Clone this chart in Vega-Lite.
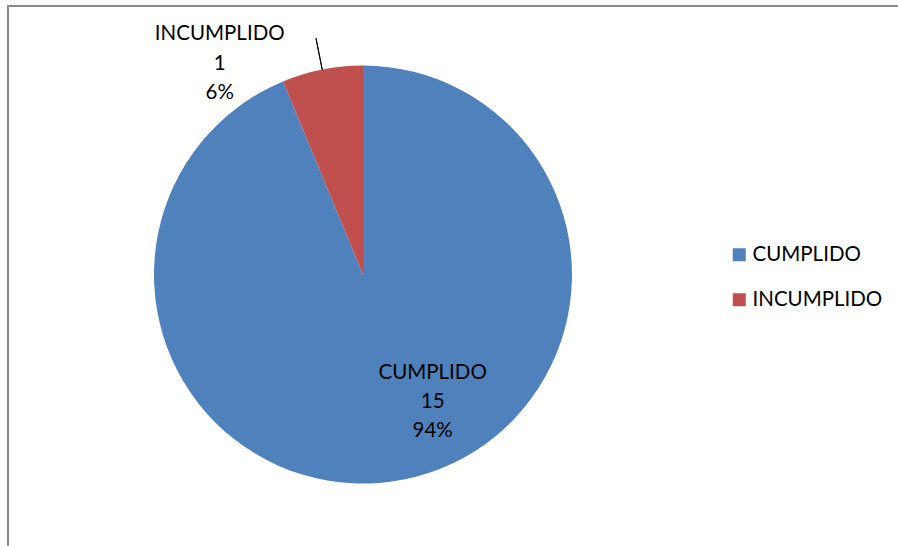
{
  "$schema": "https://vega.github.io/schema/vega-lite/v6.json",
  "width": 900,
  "height": 550,
  "autosize": {"type": "none"},
  "padding": {"left": 8, "top": 6, "right": 0, "bottom": 0},
  "background": "white",
  "data": {
    "values": [
      {"category": "CUMPLIDO", "count": 15, "label": ["CUMPLIDO", "15", "94%"]},
      {"category": "INCUMPLIDO", "count": 1, "label": ["INCUMPLIDO", "1", "6%"]}
    ]
  },
  "layer": [
    {
      "data": {"values": [{"frame": "chart area"}]},
      "mark": {"type": "rect", "fill": "transparent", "stroke": "#898989", "strokeWidth": 2},
      "encoding": {}
    },
    {
      "mark": {"type": "arc", "outerRadius": 209, "xOffset": -95, "yOffset": -6.4},
      "encoding": {
        "theta": {"field": "count", "type": "quantitative", "stack": true},
        "order": {"field": "category", "type": "ordinal", "sort": "ascending"},
        "color": {
          "field": "category",
          "type": "nominal",
          "scale": {"domain": ["CUMPLIDO", "INCUMPLIDO"], "range": ["#4F81BD", "#C0504D"]},
          "legend": {"title": null}
        }
      }
    },
    {
      "mark": {"type": "arc", "filled": false, "innerRadius": 209, "outerRadius": 241, "padAngle": 1, "strokeWidth": 1, "xOffset": -95, "yOffset": -6.4},
      "encoding": {
        "theta": {"field": "count", "type": "quantitative", "stack": true},
        "order": {"field": "category", "type": "ordinal", "sort": "ascending"},
        "detail": {"field": "category", "type": "nominal"},
        "stroke": {"condition": {"test": "datum.category === 'INCUMPLIDO'", "value": "black"}, "value": "transparent"}
      }
    },
    {
      "mark": {"type": "text", "radius": 130, "dx": 44.3, "dy": -29.5, "xOffset": -95, "yOffset": -6.4, "font": "Lato", "fontSize": 20.5, "lineHeight": 29.3, "align": "center", "baseline": "middle", "color": "black"},
      "encoding": {
        "theta": {"field": "count", "type": "quantitative", "stack": true},
        "order": {"field": "category", "type": "ordinal", "sort": "ascending"},
        "detail": {"field": "category", "type": "nominal"},
        "text": {"condition": {"test": "datum.category === 'CUMPLIDO'", "field": "label", "type": "nominal"}, "value": ""}
      }
    },
    {
      "mark": {"type": "text", "radius": 215, "dx": -101.3, "dy": -29.5, "xOffset": -95, "yOffset": -6.4, "font": "Lato", "fontSize": 20.5, "lineHeight": 29.3, "align": "center", "baseline": "middle", "color": "black"},
      "encoding": {
        "theta": {"field": "count", "type": "quantitative", "stack": true},
        "order": {"field": "category", "type": "ordinal", "sort": "ascending"},
        "detail": {"field": "category", "type": "nominal"},
        "text": {"condition": {"test": "datum.category === 'INCUMPLIDO'", "field": "label", "type": "nominal"}, "value": ""}
      }
    }
  ],
  "config": {
    "view": {"stroke": null},
    "legend": {
      "orient": "none",
      "legendX": 721,
      "legendY": 238.5,
      "padding": 0,
      "symbolType": "square",
      "symbolSize": 169,
      "symbolStrokeWidth": 0,
      "labelFont": "Lato",
      "labelFontSize": 20.5,
      "labelColor": "#000000",
      "labelOffset": 3,
      "rowPadding": 24
    }
  }
}
